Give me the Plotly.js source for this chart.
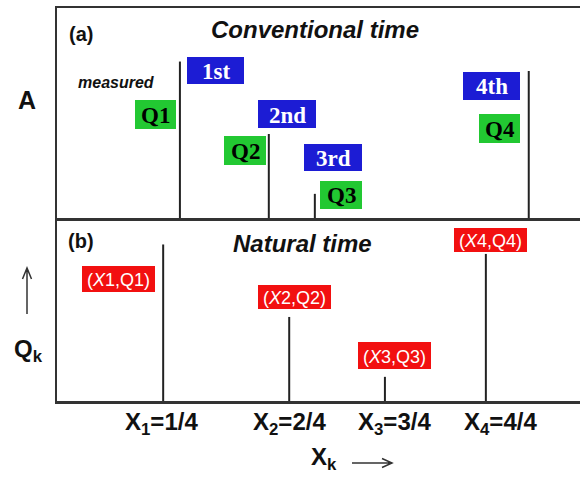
<!DOCTYPE html>
<html>
<head>
<meta charset="utf-8">
<script src="https://cdn.plot.ly/plotly-3.0.1.min.js"></script>
<style>html,body{margin:0;padding:0;background:#fff;}#chart{width:580px;height:477px;}</style>
</head>
<body>
<div id="chart"></div>
<script>
// ---- data ----
const conventionalTime = [2.35, 4.05, 4.93, 9.02];   // event times (arb. units)
const naturalPos       = [2.03, 4.44, 6.27, 8.20];   // drawn positions of natural time
const energyQ          = [7.45, 4.0, 1.15, 7.0];      // Q_k (arb. units)
const ordinals   = ['1st', '2nd', '3rd', '4th'];
const qLabels    = ['Q1', 'Q2', 'Q3', 'Q4'];
const pairLabels = ['(<i>X</i>1,Q1)', '(<i>X</i>2,Q2)', '(<i>X</i>3,Q3)', '(<i>X</i>4,Q4)'];
const tickLabels = ['X<sub>1</sub>=1/4', 'X<sub>2</sub>=2/4', 'X<sub>3</sub>=3/4', 'X<sub>4</sub>=4/4'];

// ---- helpers ----
const L = 57, R = 580, T = 8, B = 401;
const px = x => (x - L) / (R - L);
const py = y => (B - y) / (B - T);
function stems(xs, ys) {
  const sx = [], sy = [];
  xs.forEach((x, i) => { sx.push(x, x, null); sy.push(0, ys[i], null); });
  return {sx, sy};
}
const a = stems(conventionalTime, energyQ);
const b = stems(naturalPos, energyQ);
const stemLine = {color: '#222', width: 2};

const traces = [
  {x: a.sx, y: a.sy, xaxis: 'x2', yaxis: 'y2', mode: 'lines', line: stemLine, hoverinfo: 'skip', showlegend: false},
  {x: b.sx, y: b.sy, xaxis: 'x', yaxis: 'y', mode: 'lines', line: stemLine, hoverinfo: 'skip', showlegend: false}
];

const SANS = 'Liberation Sans, Arial, sans-serif';
const SERIF = 'Liberation Serif, Times New Roman, serif';
const ann = [];
const shapes = [];
function label(text, cx, cy, size, opts) {
  opts = opts || {};
  ann.push({xref: 'paper', yref: 'paper', x: px(cx), y: py(cy), xanchor: 'center', yanchor: 'middle',
    text: text, showarrow: false,
    font: {family: opts.family || SANS, size: size, color: opts.color || '#111', weight: opts.weight || 'bold', style: opts.style || 'normal'}});
}
function box(text, cx, cy, w, h, bg, color, font, size, weight) {
  shapes.push({type: 'rect', xref: 'paper', yref: 'paper', layer: 'above',
    x0: px(cx - w / 2), x1: px(cx + w / 2), y0: py(cy + h / 2), y1: py(cy - h / 2),
    fillcolor: bg, line: {width: 0}});
  label(text, cx, cy + 1, size, {family: font, color: color, weight: weight});
}

const BLUE = '#1c1cd4', GREEN = '#22c832', RED = '#f21010';
const ordPos = [[215.5, 70.5, 57, 27], [287, 114, 58, 28], [333, 157.5, 58, 27], [491.5, 86, 57, 28]];
const qPos   = [[155.5, 114.5, 41, 29], [245, 150.5, 42, 29], [341, 195, 42, 28], [499.5, 128.5, 41, 29]];
const redPos = [[118.5, 279, 73, 26], [294.5, 297, 73, 24], [394.5, 355.5, 73, 27], [490.5, 240, 73, 24]];
const tickPos = [161, 289.5, 394.5, 500];

ordinals.forEach((t, i) => box(t, ordPos[i][0], ordPos[i][1], ordPos[i][2], ordPos[i][3], BLUE, '#fff', SERIF, 23, 'bold'));
qLabels.forEach((t, i) => box(t, qPos[i][0], qPos[i][1], qPos[i][2], qPos[i][3], GREEN, '#000', SERIF, 23, 'bold'));
pairLabels.forEach((t, i) => box(t, redPos[i][0], redPos[i][1], redPos[i][2], redPos[i][3], RED, '#fff', SANS, 18, 'normal'));
tickLabels.forEach((t, i) => label(t, tickPos[i], 423, 24, {weight: 'bold'}));

label('(a)', 81, 34, 20);
label('(b)', 81, 241, 20);
label('Conventional time', 315, 30, 24, {style: 'italic'});
label('Natural time', 302, 243, 24, {style: 'italic'});
label('measured', 116, 82, 16, {style: 'italic'});
label('A', 27, 100, 25);
label('Q<sub>k</sub>', 28, 350, 24);
label('X<sub>k</sub>', 324, 459, 24);

shapes.push(
  {type: 'path', xref: 'paper', yref: 'paper', line: {color: '#333', width: 1.5},
   path: `M ${px(27)} ${py(314)} L ${px(27)} ${py(268)} M ${px(22.5)} ${py(279)} L ${px(27)} ${py(268)} L ${px(31.5)} ${py(279)}`},
  {type: 'path', xref: 'paper', yref: 'paper', line: {color: '#333', width: 1.5},
   path: `M ${px(352)} ${py(463)} L ${px(392)} ${py(463)} M ${px(382)} ${py(458.5)} L ${px(392)} ${py(463)} L ${px(382)} ${py(467.5)}`}
);

const split = (B - 218) / (B - T);
const axLine = {showline: true, linecolor: '#333', linewidth: 2.5, showgrid: false, zeroline: false,
  showticklabels: false, ticks: '', fixedrange: true};
const layout = {
  width: 580, height: 477,
  margin: {l: L, r: 0, t: T, b: 477 - B, pad: 0},
  paper_bgcolor: '#fff', plot_bgcolor: '#fff',
  showlegend: false,
  xaxis: Object.assign({}, axLine, {domain: [0, 1], range: [0, 10], anchor: 'y'}),
  yaxis: Object.assign({}, axLine, {domain: [0, split], range: [0, 8.71], anchor: 'x'}),
  xaxis2: Object.assign({}, axLine, {domain: [0, 1], range: [0, 10], anchor: 'y2', mirror: true}),
  yaxis2: Object.assign({}, axLine, {domain: [split, 1], range: [0, 10], anchor: 'x2'}),
  annotations: ann,
  shapes: shapes
};
Plotly.newPlot('chart', traces, layout, {staticPlot: true, displayModeBar: false});
</script>
</body>
</html>
